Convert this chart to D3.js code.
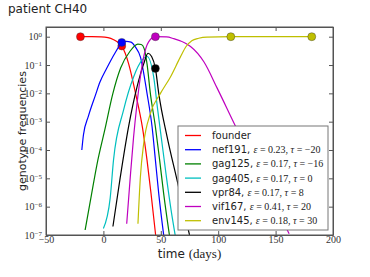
<!DOCTYPE html>
<html lang="en">
<head>
<meta charset="utf-8">
<script src="https://d3js.org/d3.v7.min.js"></script>
<style type="text/css">
body { margin: 0; background: #fff; }
svg { display: block; }
.tick text { font-family: "Liberation Serif", serif; font-size: 10px; fill: #333; }
.domain, .tick line { stroke: #555; }
</style>
</head>
<body>
<script type="text/javascript">

// frequencies, as [day, frequency]
var founder = [[-20,1],[-10,1],[-2,0.99],[4,0.93],[9,0.78],[13,0.62],[16,0.47],[19,0.26],[22,0.11],[28,0.01],[34,6.3e-4],[38,4.4e-5],[41.5,2.9e-6],[45.5,1e-7]];
var nef191 = [[-18.8,1e-4],[-17.4,3.4e-4],[-13,1.6e-3],[-7,0.0085],[-3,0.025],[3,0.078],[10,0.26],[16,0.6],[20,0.68],[24,0.64],[27.8,0.44],[32.2,0.195],[38,0.01],[42.4,6.6e-4],[45.3,4.4e-5],[48.2,2.9e-6],[52.5,1e-7]];
var gag125 = [[-15.9,1.5e-7],[-10.5,2.5e-6],[-5.7,2.95e-5],[1.6,6e-4],[8,0.009],[15,0.078],[23,0.3],[30,0.55],[33,0.53],[35.5,0.38],[38,0.11],[40.9,0.01],[45.3,6.6e-4],[49,4.4e-5],[52.5,2.9e-6],[57.5,1e-7]];
var gag405 = [[0,1.7e-7],[5.9,2e-6],[8.8,4.4e-5],[17.6,2.6e-3],[26.3,0.038],[33.6,0.148],[38,0.2],[43.8,0.038],[47.3,2.6e-3],[51.1,1.7e-4],[54.9,1.1e-5],[59,7.4e-7],[62.5,1e-7]];
var vpr84 = [[8.3,2e-7],[14.7,1.1e-5],[21.9,6.6e-4],[29.3,0.017],[35.1,0.11],[38.9,0.26],[42,0.2],[45.3,0.076],[48.2,0.01],[55.5,2.9e-4],[64.2,8.5e-6],[75,1e-7]];
var vif167 = [[20.3,2.5e-7],[23.4,1.1e-5],[26.3,2.9e-4],[29.3,4.4e-3],[32.2,0.038],[35.1,0.195],[39.4,0.66],[45.3,1],[55,0.98],[61.3,0.85],[71.5,0.59],[75.9,0.45],[87.5,0.13],[99.2,0.015],[113.7,9e-4],[161.8,1.1e-7]];
var env145 = [[30.1,2.5e-7],[32.2,1.1e-5],[35.1,1.7e-4],[40.9,1.95e-3],[49.7,0.01],[58.4,0.038],[67,0.19],[72,0.45],[77,0.72],[83,0.88],[90,0.97],[111,1],[181.5,1]];

// sampling points shown as dots
var founderDots = [[-20,1],[16,0.47]];
var nef191Dots = [[16,0.63]];
var vpr84Dots = [[45.3,0.076]];
var vif167Dots = [[45.3,1]];
var env145Dots = [[111,1],[181.5,1]];

var names = ["founder","nef191","gag125","gag405","vpr84","vif167","env145"];
var eps = [null,"0.23","0.17","0.17","0.17","0.41","0.18"];
var tau = [null,"\u221220","\u221216","0","8","20","30"];
var colors = ["#ff0000","#0000ff","#008000","#00bfbf","#000000","#bf00bf","#bfbf00"];
var series = [founder,nef191,gag125,gag405,vpr84,vif167,env145];
var dots = [founderDots,nef191Dots,[],[],vpr84Dots,vif167Dots,env145Dots];

var xTicks = [-50,0,50,100,150,200];
var yTicks = [1e-7,1e-6,1e-5,1e-4,1e-3,1e-2,1e-1,1];

var width = 370, height = 277;
var margin = {left: 46, right: 37, top: 27, bottom: 42};
var plotW = width - margin.left - margin.right;
var plotH = height - margin.top - margin.bottom;

var svg = d3.select("body").append("svg")
    .attr("width", width)
    .attr("height", height);

svg.append("text")
   .attr("x", 8).attr("y", 13)
   .style("font-family", "DejaVu Sans, sans-serif")
   .style("font-size", "12px")
   .style("fill", "#222")
   .text("patient CH40");

var x = d3.scaleLinear().domain([-50, 200]).range([0, plotW]);
var y = d3.scaleLog().domain([1e-7, 2.2]).range([plotH, 0]);

var g = svg.append("g").attr("transform", "translate(" + margin.left + "," + margin.top + ")");

g.append("clipPath").attr("id", "clip")
 .append("rect").attr("width", plotW).attr("height", plotH);

// axes, ticks pointing inward on all four sides
g.append("g").attr("transform", "translate(0," + plotH + ")")
 .call(d3.axisBottom(x).tickValues(xTicks).tickSizeInner(-4).tickSizeOuter(0).tickPadding(0.5)
       .tickFormat(function(d) { return d < 0 ? "\u2212" + Math.abs(d) : d; }));
g.append("g")
 .call(d3.axisTop(x).tickValues(xTicks).tickSizeInner(-4).tickSizeOuter(0).tickFormat(""));
var yAxis = g.append("g")
 .call(d3.axisLeft(y).tickValues(yTicks).tickSizeInner(-4).tickSizeOuter(0).tickPadding(4).tickFormat(""));
g.append("g").attr("transform", "translate(" + plotW + ",0)")
 .call(d3.axisRight(y).tickValues(yTicks).tickSizeInner(-4).tickSizeOuter(0).tickFormat(""));

// 10^n labels with superscript
yAxis.selectAll(".tick text").each(function(d) {
  var p = Math.round(Math.log10(d));
  var t = d3.select(this);
  t.append("tspan").text("10");
  t.append("tspan").attr("dy", "-0.45em").style("font-size", "7px")
   .text(p < 0 ? "\u2212" + Math.abs(p) : p);
});

var line = d3.line()
  .x(function(d) { return x(d[0]); })
  .y(function(d) { return y(d[1]); })
  .curve(d3.curveMonotoneX);

var plot = g.append("g").attr("clip-path", "url(#clip)");

series.forEach(function(s, i) {
  plot.append("path")
      .datum(s)
      .attr("d", line)
      .style("fill", "none")
      .style("stroke", colors[i])
      .style("stroke-width", 1.2);
  plot.selectAll(".dot" + i)
      .data(dots[i])
      .enter()
      .append("circle")
      .attr("cx", function(d) { return x(d[0]); })
      .attr("cy", function(d) { return y(d[1]); })
      .attr("r", 4)
      .style("fill", colors[i])
      .style("stroke", "#333")
      .style("stroke-width", 0.4);
});

// frame
g.append("rect").attr("width", plotW).attr("height", plotH)
 .style("fill", "none").style("stroke", "#555");

// axis titles
var xl = svg.append("text")
   .attr("x", margin.left + plotW / 2)
   .attr("y", 258)
   .attr("text-anchor", "middle")
   .style("font-size", "12px")
   .style("fill", "#222");
xl.append("tspan").style("font-family", "DejaVu Sans, sans-serif").text("time ");
xl.append("tspan").style("font-family", "Liberation Serif, serif").style("font-size", "13px").text("(days)");

svg.append("text")
   .attr("transform", "translate(26," + (margin.top + plotH / 2) + ") rotate(-90)")
   .attr("text-anchor", "middle")
   .style("font-family", "DejaVu Sans, sans-serif")
   .style("font-size", "11px")
   .style("fill", "#222")
   .text("genotype frequencies");

// legend
var legend = svg.append("g").attr("transform", "translate(178,126)");
legend.append("rect")
      .attr("width", 150).attr("height", 104)
      .style("fill", "#fff").style("stroke", "#777").style("stroke-width", 1);

var item = legend.selectAll(".item")
  .data(names)
  .enter()
  .append("g")
  .attr("transform", function(d, i) { return "translate(0," + (9.5 + i * 14.2) + ")"; });

item.append("line")
    .attr("x1", 7).attr("x2", 23)
    .style("stroke", function(d, i) { return colors[i]; })
    .style("stroke-width", 1.3);

item.append("text")
    .attr("x", 34).attr("y", 3.5)
    .style("font-size", "10px")
    .style("fill", "#222")
    .each(function(d, i) {
      var t = d3.select(this);
      if (eps[i] === null) {
        t.append("tspan").style("font-family", "DejaVu Sans, sans-serif").text(d);
        return;
      }
      t.append("tspan").style("font-family", "DejaVu Sans, sans-serif").text(d + ", ");
      t.append("tspan").style("font-family", "Liberation Serif, serif").style("font-style", "italic").text("\u03b5");
      t.append("tspan").style("font-family", "Liberation Serif, serif").text(" = " + eps[i] + ",  ");
      t.append("tspan").style("font-family", "Liberation Serif, serif").style("font-style", "italic").text("\u03c4");
      t.append("tspan").style("font-family", "Liberation Serif, serif").text(" = " + tau[i]);
    });

</script>
</body>
</html>
